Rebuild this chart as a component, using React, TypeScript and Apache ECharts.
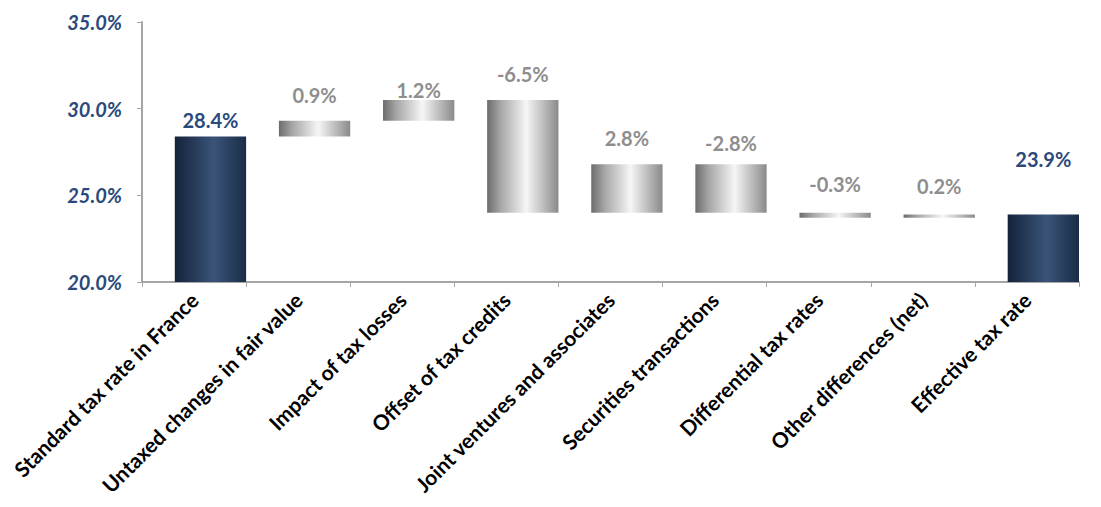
import React, { useEffect, useRef } from "react";
import * as echarts from "echarts";

// ---- data ----
const categories = [
  "Standard tax rate in France",
  "Untaxed changes in fair value",
  "Impact of tax losses",
  "Offset of tax credits",
  "Joint ventures and associates",
  "Securities transactions",
  "Differential tax rates",
  "Other differences (net)",
  "Effective tax rate",
];
const standardRate = 28.4;
const changes = [0.9, 1.2, -6.5, 2.8, -2.8, -0.3, 0.2];
const effectiveRate = 23.9;
const yMin = 20;
const yMax = 35;
const yInterval = 5;

// ---- style (label lift above each bar, px) ----
const labelLift = [6, 16, 0, 16, 16, 11, 19, 18, 45];

const FONT = "Lato, 'Open Sans', sans-serif";
const BLUE_TEXT = "#2B4A7C";
const GRAY_TEXT = "#8E8E8E";

const navyGradient = new echarts.graphic.LinearGradient(0, 0, 1, 0, [
  { offset: 0, color: "#14233b" },
  { offset: 0.55, color: "#3a5479" },
  { offset: 1, color: "#1a2c48" },
]);
const grayGradient = new echarts.graphic.LinearGradient(0, 0, 1, 0, [
  { offset: 0, color: "#6c6c6c" },
  { offset: 0.18, color: "#a4a4a4" },
  { offset: 0.55, color: "#f6f6f6" },
  { offset: 1, color: "#8a8a8a" },
]);

export default function App() {
  const ref = useRef<HTMLDivElement>(null);

  useEffect(() => {
    if (!ref.current) return;
    const chart = echarts.init(ref.current, undefined, { renderer: "svg" });

    const baseData: number[] = [];
    const barData: any[] = [];
    const labels: string[] = [];

    // opening total
    baseData.push(0);
    barData.push(standardRate);
    labels.push(standardRate.toFixed(1) + "%");

    let running = standardRate;
    changes.forEach((c) => {
      const next = running + c;
      baseData.push(Math.min(running, next));
      barData.push(Math.abs(c));
      labels.push(c.toFixed(1) + "%");
      running = next;
    });

    baseData.push(0);
    barData.push(effectiveRate);
    labels.push(effectiveRate.toFixed(1) + "%");

    const last = categories.length - 1;
    const visible = barData.map((v, i) => {
      const total = i === 0 || i === last;
      return {
        value: v,
        itemStyle: { color: total ? navyGradient : grayGradient },
        label: {
          distance: labelLift[i],
          color: total ? BLUE_TEXT : GRAY_TEXT,
        },
      };
    });

    chart.setOption({
      animation: false,
      grid: { left: 142, right: 22, top: 22, bottom: 225 },
      xAxis: {
        type: "category",
        data: categories,
        axisLine: { lineStyle: { color: "#A6A6A6", width: 2 } },
        axisTick: { show: true, length: 5, lineStyle: { color: "#A6A6A6", width: 1 } },
        axisLabel: {
          rotate: 45,
          interval: 0,
          margin: 14,
          color: "#000",
          fontFamily: FONT,
          fontWeight: "bold",
          fontSize: 21,
        },
      },
      yAxis: {
        type: "value",
        min: yMin,
        max: yMax,
        interval: yInterval,
        splitLine: { show: false },
        axisLine: { show: true, lineStyle: { color: "#A6A6A6", width: 2 } },
        axisTick: { show: true, length: 5, lineStyle: { color: "#A6A6A6", width: 1 } },
        axisLabel: {
          margin: 20,
          color: BLUE_TEXT,
          fontFamily: FONT,
          fontWeight: "bold",
          fontStyle: "italic",
          fontSize: 20,
          formatter: (v: number) => v.toFixed(1) + "%",
        },
      },
      series: [
        {
          name: "spacer",
          type: "bar",
          stack: "spacer",
          barWidth: "31.5%",
          barGap: "0%",
          silent: true,
          itemStyle: { color: "transparent" },
          data: categories.map(() => 0),
        },
        {
          name: "base",
          type: "bar",
          stack: "wf",
          barWidth: "68.5%",
          silent: true,
          itemStyle: { color: "transparent" },
          data: baseData,
        },
        {
          name: "value",
          type: "bar",
          stack: "wf",
          barWidth: "68.5%",
          data: visible,
          label: {
            show: true,
            position: "top",
            fontFamily: FONT,
            fontWeight: "bold",
            fontSize: 20,
            formatter: (p: any) => labels[p.dataIndex],
          },
        },
      ],
    });

    return () => chart.dispose();
  }, []);

  return (
    <div
      ref={ref}
      style={{ position: "fixed", left: 0, top: 0, width: 1101, height: 507, background: "#fff" }}
    />
  );
}
